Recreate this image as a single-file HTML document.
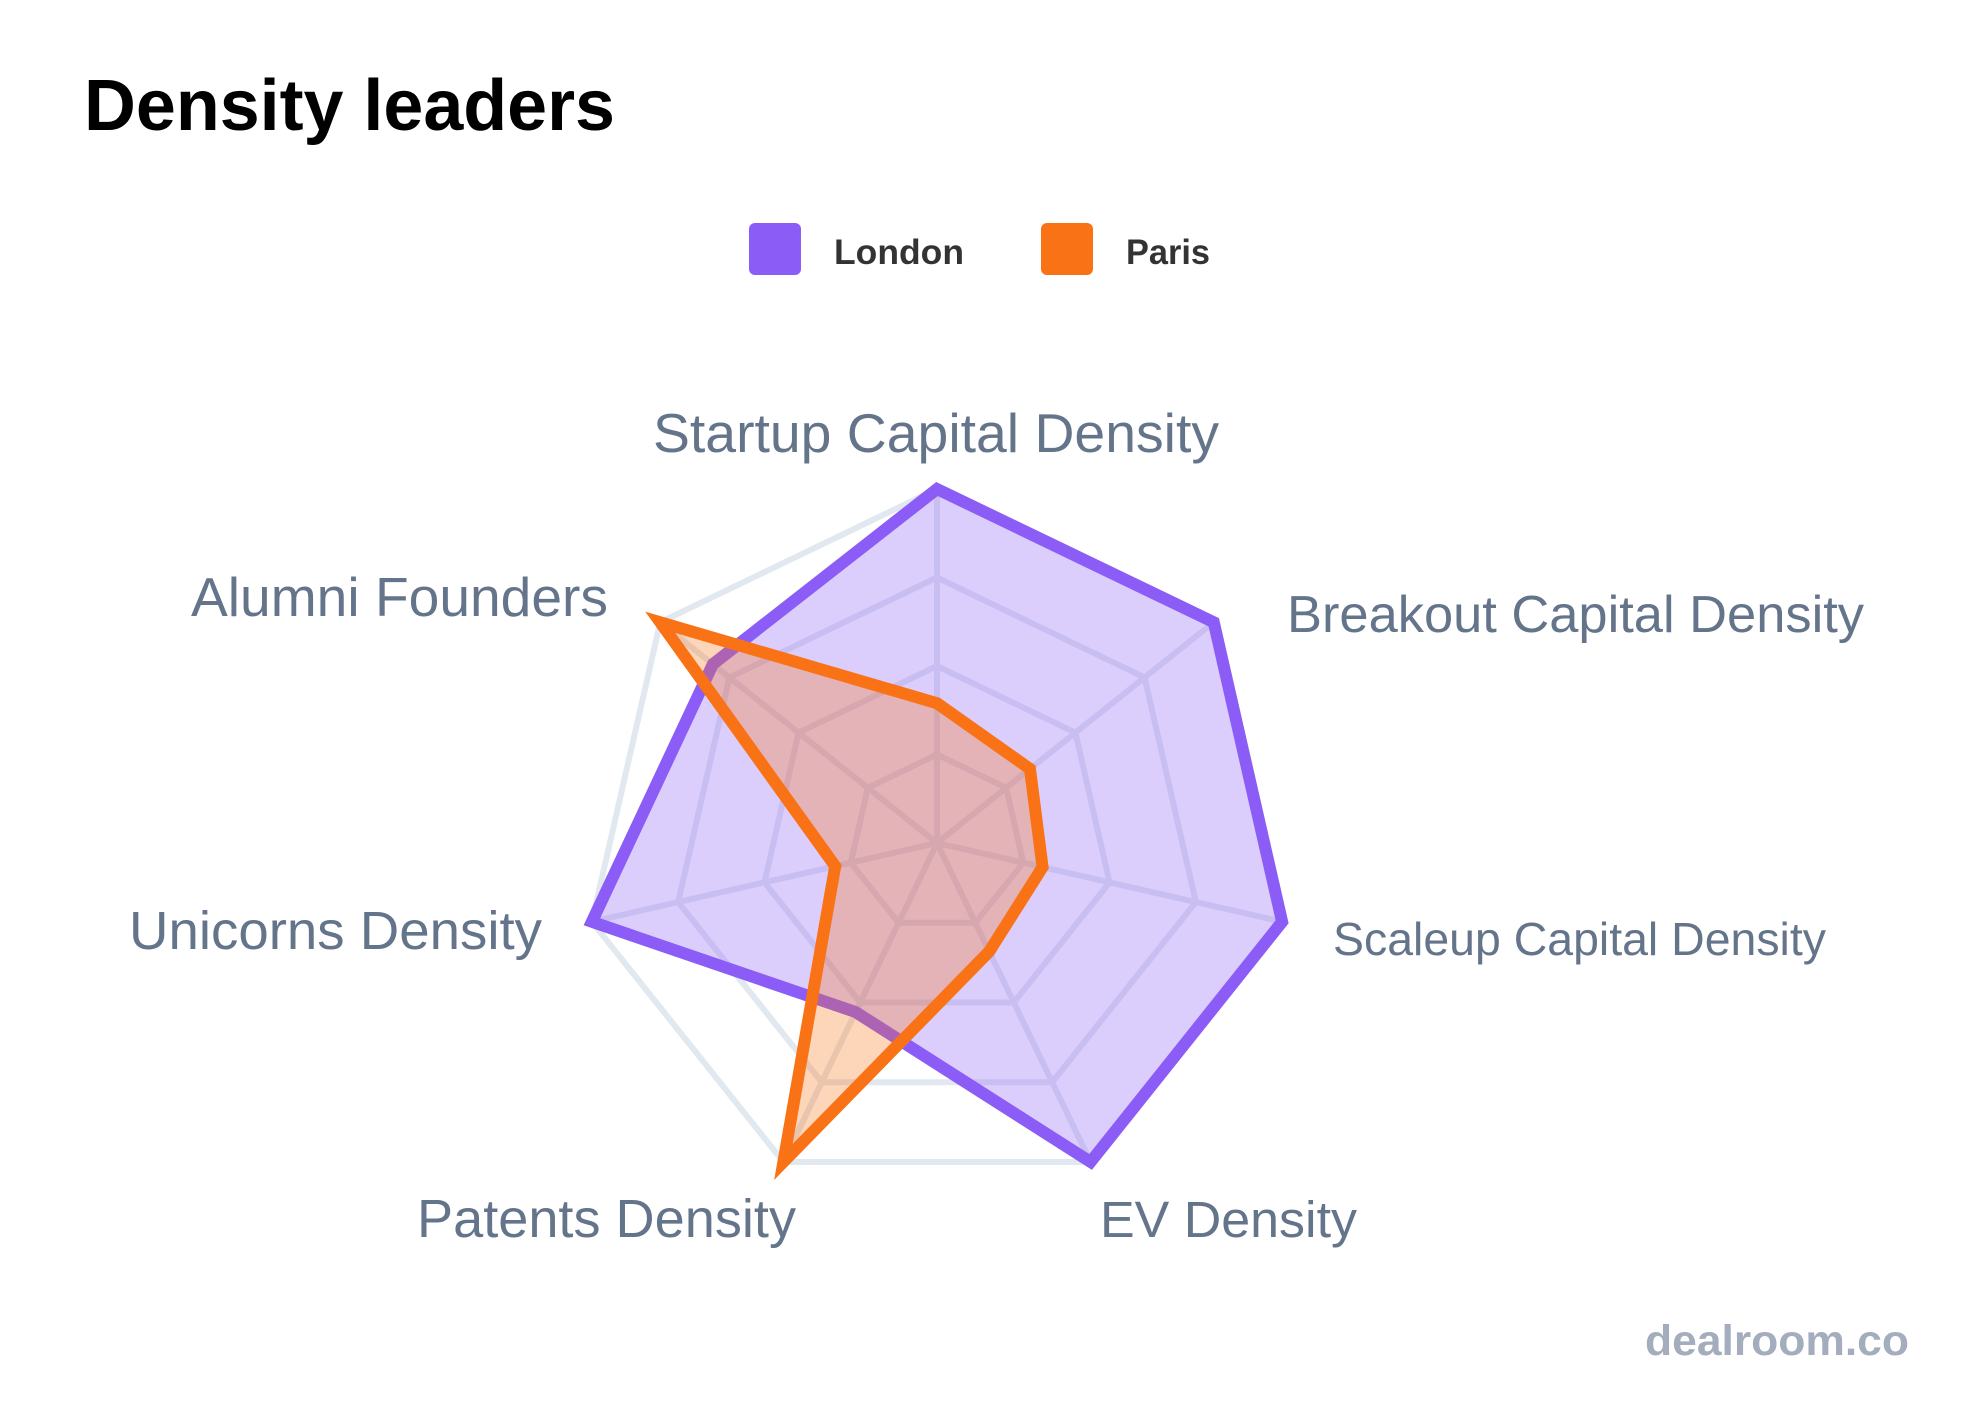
<!DOCTYPE html>
<html>
<head>
<meta charset="utf-8">
<style>
  html, body { margin: 0; padding: 0; background: #ffffff; }
  svg { display: block; }
  .lbl { font-family: "Liberation Sans", sans-serif; fill: #64748b; }
</style>
</head>
<body>
<svg width="1976" height="1408" viewBox="0 0 1976 1408" xmlns="http://www.w3.org/2000/svg">
  <rect x="0" y="0" width="1976" height="1408" fill="#ffffff"/>

  <!-- Title -->
  <text x="84" y="130" font-family="Liberation Sans, sans-serif" font-weight="bold" font-size="72" fill="#000000" textLength="531" lengthAdjust="spacingAndGlyphs">Density leaders</text>

  <!-- Legend -->
  <rect x="749" y="223" width="52" height="52" rx="6" ry="6" fill="#8b5cf6"/>
  <text x="834" y="264" font-family="Liberation Sans, sans-serif" font-weight="bold" font-size="35" fill="#333333" textLength="130" lengthAdjust="spacingAndGlyphs">London</text>
  <rect x="1041" y="223" width="52" height="52" rx="6" ry="6" fill="#f97316"/>
  <text x="1126" y="264" font-family="Liberation Sans, sans-serif" font-weight="bold" font-size="35" fill="#333333" textLength="84" lengthAdjust="spacingAndGlyphs">Paris</text>

  <!-- Grid -->
  <g fill="none" stroke="#e2e8f0" stroke-width="6" stroke-linejoin="miter">
    <polygon points="937,489 1213.77,622.28 1282.13,921.77 1090.59,1161.94 783.41,1161.94 591.87,921.77 660.23,622.28"/>
    <polygon points="937,577.5 1144.58,677.46 1195.84,902.08 1052.20,1082.21 821.80,1082.21 678.16,902.08 729.42,677.46"/>
    <polygon points="937,666 1075.38,732.64 1109.56,882.39 1013.80,1002.47 860.20,1002.47 764.44,882.39 798.62,732.64"/>
    <polygon points="937,754.5 1006.19,787.82 1023.28,862.69 975.40,922.74 898.60,922.74 850.72,862.69 867.81,787.82"/>
    <line x1="937" y1="843" x2="937" y2="489"/>
    <line x1="937" y1="843" x2="1213.77" y2="622.28"/>
    <line x1="937" y1="843" x2="1282.13" y2="921.77"/>
    <line x1="937" y1="843" x2="1090.59" y2="1161.94"/>
    <line x1="937" y1="843" x2="783.41" y2="1161.94"/>
    <line x1="937" y1="843" x2="591.87" y2="921.77"/>
    <line x1="937" y1="843" x2="660.23" y2="622.28"/>
  </g>

  <!-- London -->
  <polygon points="937,489 1213.77,622.28 1282.13,921.77 1090.59,1161.94 855.60,1012.02 591.87,921.77 712.85,664.24"
           fill="rgba(139,92,246,0.3)" stroke="#8b5cf6" stroke-width="12" stroke-linejoin="miter" stroke-miterlimit="10"/>

  <!-- Paris -->
  <polygon points="937,703.2 1029.96,768.87 1042.58,867.10 989.24,951.48 783.41,1161.94 835.22,866.23 660.23,622.28"
           fill="rgba(249,115,22,0.3)" stroke="#f97316" stroke-width="12" stroke-linejoin="miter" stroke-miterlimit="10"/>

  <!-- Axis labels -->
  <text class="lbl" x="653" y="452" font-size="55" textLength="566" lengthAdjust="spacingAndGlyphs">Startup Capital Density</text>
  <text class="lbl" x="1287" y="632" font-size="52" textLength="577" lengthAdjust="spacingAndGlyphs">Breakout Capital Density</text>
  <text class="lbl" x="1333" y="955" font-size="46" textLength="493" lengthAdjust="spacingAndGlyphs">Scaleup Capital Density</text>
  <text class="lbl" x="1100" y="1237" font-size="51" textLength="257" lengthAdjust="spacingAndGlyphs">EV Density</text>
  <text class="lbl" x="417" y="1237" font-size="54" textLength="379" lengthAdjust="spacingAndGlyphs">Patents Density</text>
  <text class="lbl" x="129" y="949" font-size="54" textLength="413" lengthAdjust="spacingAndGlyphs">Unicorns Density</text>
  <text class="lbl" x="191" y="616" font-size="55" textLength="417" lengthAdjust="spacingAndGlyphs">Alumni Founders</text>

  <!-- Watermark -->
  <text x="1645" y="1355" font-family="Liberation Sans, sans-serif" font-weight="bold" font-size="43" fill="#a4adbd" textLength="264" lengthAdjust="spacingAndGlyphs">dealroom.co</text>
</svg>
</body>
</html>
